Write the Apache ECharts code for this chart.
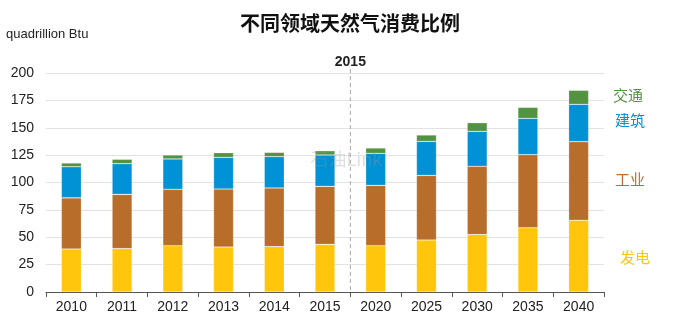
<!DOCTYPE html>
<html><head><meta charset="utf-8">
<script src="https://cdn.jsdelivr.net/npm/echarts@6/dist/echarts.min.js"></script>
<style>html,body{margin:0;padding:0;background:#fff}#c{width:700px;height:326px}</style>
</head><body><div id="c"></div>
<script>
const categories = ['2010','2011','2012','2013','2014','2015','2020','2025','2030','2035','2040'];
const power     = [39.3, 39.6, 42.3, 41.1, 41.4, 43.5, 42.3, 47.5, 52.4, 58.7, 65.5];
const industry  = [46.7, 49.6, 51.5, 52.9, 53.6, 53.0, 55.1, 59.0, 62.4, 66.7, 71.8];
const buildings = [28.4, 28.0, 27.7, 29.0, 28.6, 28.6, 29.2, 31.1, 31.9, 33.2, 34.1];
const transport = [3.4, 4.0, 3.6, 4.2, 3.9, 3.9, 4.9, 5.8, 7.9, 10.0, 12.8];
const seriesNames = ['发电','工业','建筑','交通'];
const colors = ['#FFC60B','#B96D2A','#0092D4','#539241'];
const yTicks = [0,25,50,75,100,125,150,175,200];

const chart = echarts.init(document.getElementById('c'));
const data = [power, industry, buildings, transport];
const font = 'Liberation Sans, Arial, sans-serif';
const series = data.map((d,i)=>({
  name: seriesNames[i], type:'bar', stack:'t', data:d, barWidth:20,
  itemStyle:{color:colors[i], borderColor:'rgba(255,255,255,0.35)', borderWidth:0.6},
  emphasis:{disabled:true}
}));
chart.setOption({
  animation:false,
  title:{text:'不同领域天然气消费比例', left:'center', top:8,
    textStyle:{fontFamily:'Noto Sans CJK SC', fontSize:20, fontWeight:'bold', color:'#111'}},
  grid:{left:46, right:96, top:73, bottom:34},
  xAxis:{type:'category', data:categories,
    axisLine:{lineStyle:{color:'#555', width:1}},
    axisTick:{show:true, alignWithLabel:false, length:5, lineStyle:{color:'#555'}},
    axisLabel:{color:'#222', fontSize:14, fontFamily:font, margin:8}},
  yAxis:{type:'value', min:0, max:200, interval:25,
    name:'quadrillion Btu', nameLocation:'end', nameGap:0,
    nameTextStyle:{color:'#222', fontSize:13, fontFamily:font, align:'left', padding:[0,0,32,-40]},
    axisLine:{show:false}, axisTick:{show:false},
    axisLabel:{color:'#222', fontSize:14, fontFamily:font, margin:12,
      formatter:v=>yTicks.includes(v)?String(v):''},
    splitLine:{lineStyle:{color:'#e2e2e2', width:1}}},
  series: series
});

const x1 = chart.convertToPixel({xAxisIndex:0}, '2015');
const x2 = chart.convertToPixel({xAxisIndex:0}, '2020');
const xm = (x1+x2)/2;
const yTop = chart.convertToPixel({yAxisIndex:0}, 200);
const yBot = chart.convertToPixel({yAxisIndex:0}, 0);
const labelGraphics = seriesNames.map((n,i)=>{
  const labY = [260,182,123,98][i];
  return {type:'text', left:[620,615,615,613][i], top:labY-10,
    style:{text:n, fill:colors[i], fontSize:15, fontFamily:'Noto Sans CJK SC'}};
});
chart.setOption({graphic:[
  {type:'line', shape:{x1:xm, y1:yTop-4, x2:xm, y2:yBot}, style:{stroke:'#aaa', lineWidth:1, lineDash:[4,3]}, z:10},
  {type:'text', x:xm, y:yTop-11, style:{text:'2015', fill:'#222', fontSize:14, fontWeight:'bold', fontFamily:font, align:'center', verticalAlign:'middle'}},
  {type:'text', x:xm-4, y:chart.convertToPixel({yAxisIndex:0}, 121), style:{text:'石油Link', fill:'rgba(150,150,150,0.3)', fontSize:18, fontFamily:'Noto Sans CJK SC', align:'center', verticalAlign:'middle'}, z:20},
  ...labelGraphics
]});
</script></body></html>
